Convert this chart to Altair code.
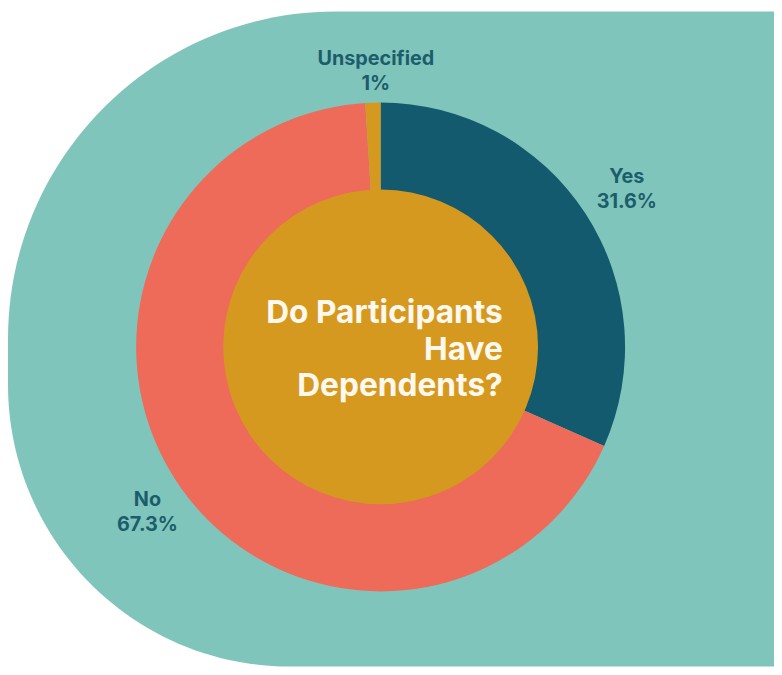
import altair as alt
import pandas as pd

categories = ["Yes", "No", "Unspecified"]
values = [31.6, 67.3, 1.0]
labels = ["31.6%", "67.3%", "1%"]
colors = ["#135A6E", "#EE6A59", "#D6991F"]
title_lines = ["Do Participants", "Have", "Dependents?"]

W, H = 774, 667
CX, CY = 376.5, 339

df = pd.DataFrame({
    "category": categories,
    "value": values,
    "pct": labels,
    "order": list(range(len(categories))),
})
df["label"] = df["category"] + "\n" + df["pct"]

bg = alt.Chart(pd.DataFrame({"a": [0]})).mark_rect(
    color="#80C5BB",
    cornerRadiusTopLeft=335,
    cornerRadiusBottomLeft=285,
).encode(
    x=alt.value(0), x2=alt.value(W), y=alt.value(0), y2=alt.value(662)
)

base = alt.Chart(df).encode(
    theta=alt.Theta("value:Q", stack=True),
    order=alt.Order("order:Q"),
)

ring = base.mark_arc(outerRadius=247, innerRadius=158).encode(
    x=alt.value(CX), y=alt.value(CY),
    color=alt.Color("category:N", scale=alt.Scale(domain=categories, range=colors), legend=None),
)

hole = alt.Chart(pd.DataFrame({"a": [0]})).mark_arc(
    theta=0, theta2=6.2832, outerRadius=159, color="#D6991F"
).encode(x=alt.value(CX), y=alt.value(CY))

txt_style = dict(
    font="Inter", fontWeight="bold", fontSize=20, color="#1C5D6C",
    lineBreak="\n", lineHeight=25, align="center", baseline="middle", dy=-12, dx=4,
)

lbl_main = base.mark_text(radius=292, **txt_style).encode(
    x=alt.value(CX), y=alt.value(CY),
    text="label:N",
    opacity=alt.condition(alt.datum.category == "Unspecified", alt.value(0), alt.value(1)),
)
lbl_small = base.mark_text(radius=279, **txt_style).encode(
    x=alt.value(CX), y=alt.value(CY),
    text="label:N",
    opacity=alt.condition(alt.datum.category == "Unspecified", alt.value(1), alt.value(0)),
)

center = alt.Chart(pd.DataFrame({"t": [title_lines]})).mark_text(
    font="Inter", fontWeight="bold", fontSize=32, color="#FFF8EE",
    align="right", baseline="middle", lineHeight=37,
).encode(
    x=alt.value(500), y=alt.value(305), text="t"
)

chart = alt.layer(bg, ring, hole, lbl_main, lbl_small, center).properties(
    width=W, height=H, autosize=alt.AutoSizeParams(type="none"), padding=0,
    background="white",
).configure_view(stroke=None)

chart.save("out.html", embed_options={"renderer": "svg", "actions": False})
